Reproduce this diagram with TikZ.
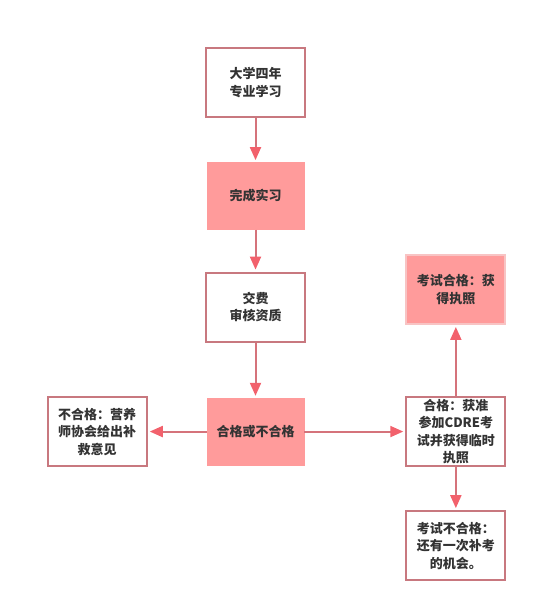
\documentclass[tikz,border=0pt]{standalone}
\usepackage{fontspec}
\setmainfont{Noto Sans CJK SC}
\usetikzlibrary{arrows.meta, positioning}
\definecolor{edge}{HTML}{C8787F}
\definecolor{rose}{HTML}{FF9B9B}
\definecolor{blush}{HTML}{F8C4C4}
\definecolor{wire}{HTML}{D5737B}
\definecolor{tip}{HTML}{F2616C}
\definecolor{ink}{HTML}{333333}
\tikzstyle{box} = [draw=edge, line width=2.2pt, fill=white, rectangle, minimum width=99pt, minimum height=69pt, inner sep=0pt, align=center, text=ink, font=\bfseries\fontsize{13}{17.5}\selectfont]
\tikzstyle{hot} = [box, draw=rose, fill=rose, line width=0.5pt, minimum width=97pt, minimum height=67pt]
\tikzstyle{link} = [draw=wire, line width=2pt, shorten >=2pt, -{Triangle[length=13pt, width=11pt, color=tip]}]

\begin{document}
\begin{tikzpicture}[x=1pt,y=-1pt]
  \useasboundingbox (0,0) rectangle (538,610);
  \node[box] (study) at (255.5,82.5) {大学四年\\专业学习};
  \node[hot, below=44pt of study] (intern) {完成实习};
  \node[box, below=42pt of intern] (fee) {交费\\审核资质};
  \node[hot, below=55pt of fee] (result) {合格或不合格};
  \node[box, left=59pt of result] (fail) {不合格：营养\\师协会给出补\\救意见};
  \node[box, right=101pt of result] (pass) {合格：获准\\参加CDRE考\\试并获得临时\\执照};
  \node[box, draw=blush, fill=rose, above=71pt of pass] (license) {考试合格：获\\得执照};
  \node[box, below=43pt of pass] (retake) {考试不合格：\\还有一次补考\\的机会。};
  \draw[link] (study) -- (intern);
  \draw[link] (intern) -- (fee);
  \draw[link] (fee) -- (result);
  \draw[link] (result) -- (fail);
  \draw[link] (result) -- (pass);
  \draw[link] (pass) -- (license);
  \draw[link] (pass) -- (retake);
\end{tikzpicture}
\end{document}
